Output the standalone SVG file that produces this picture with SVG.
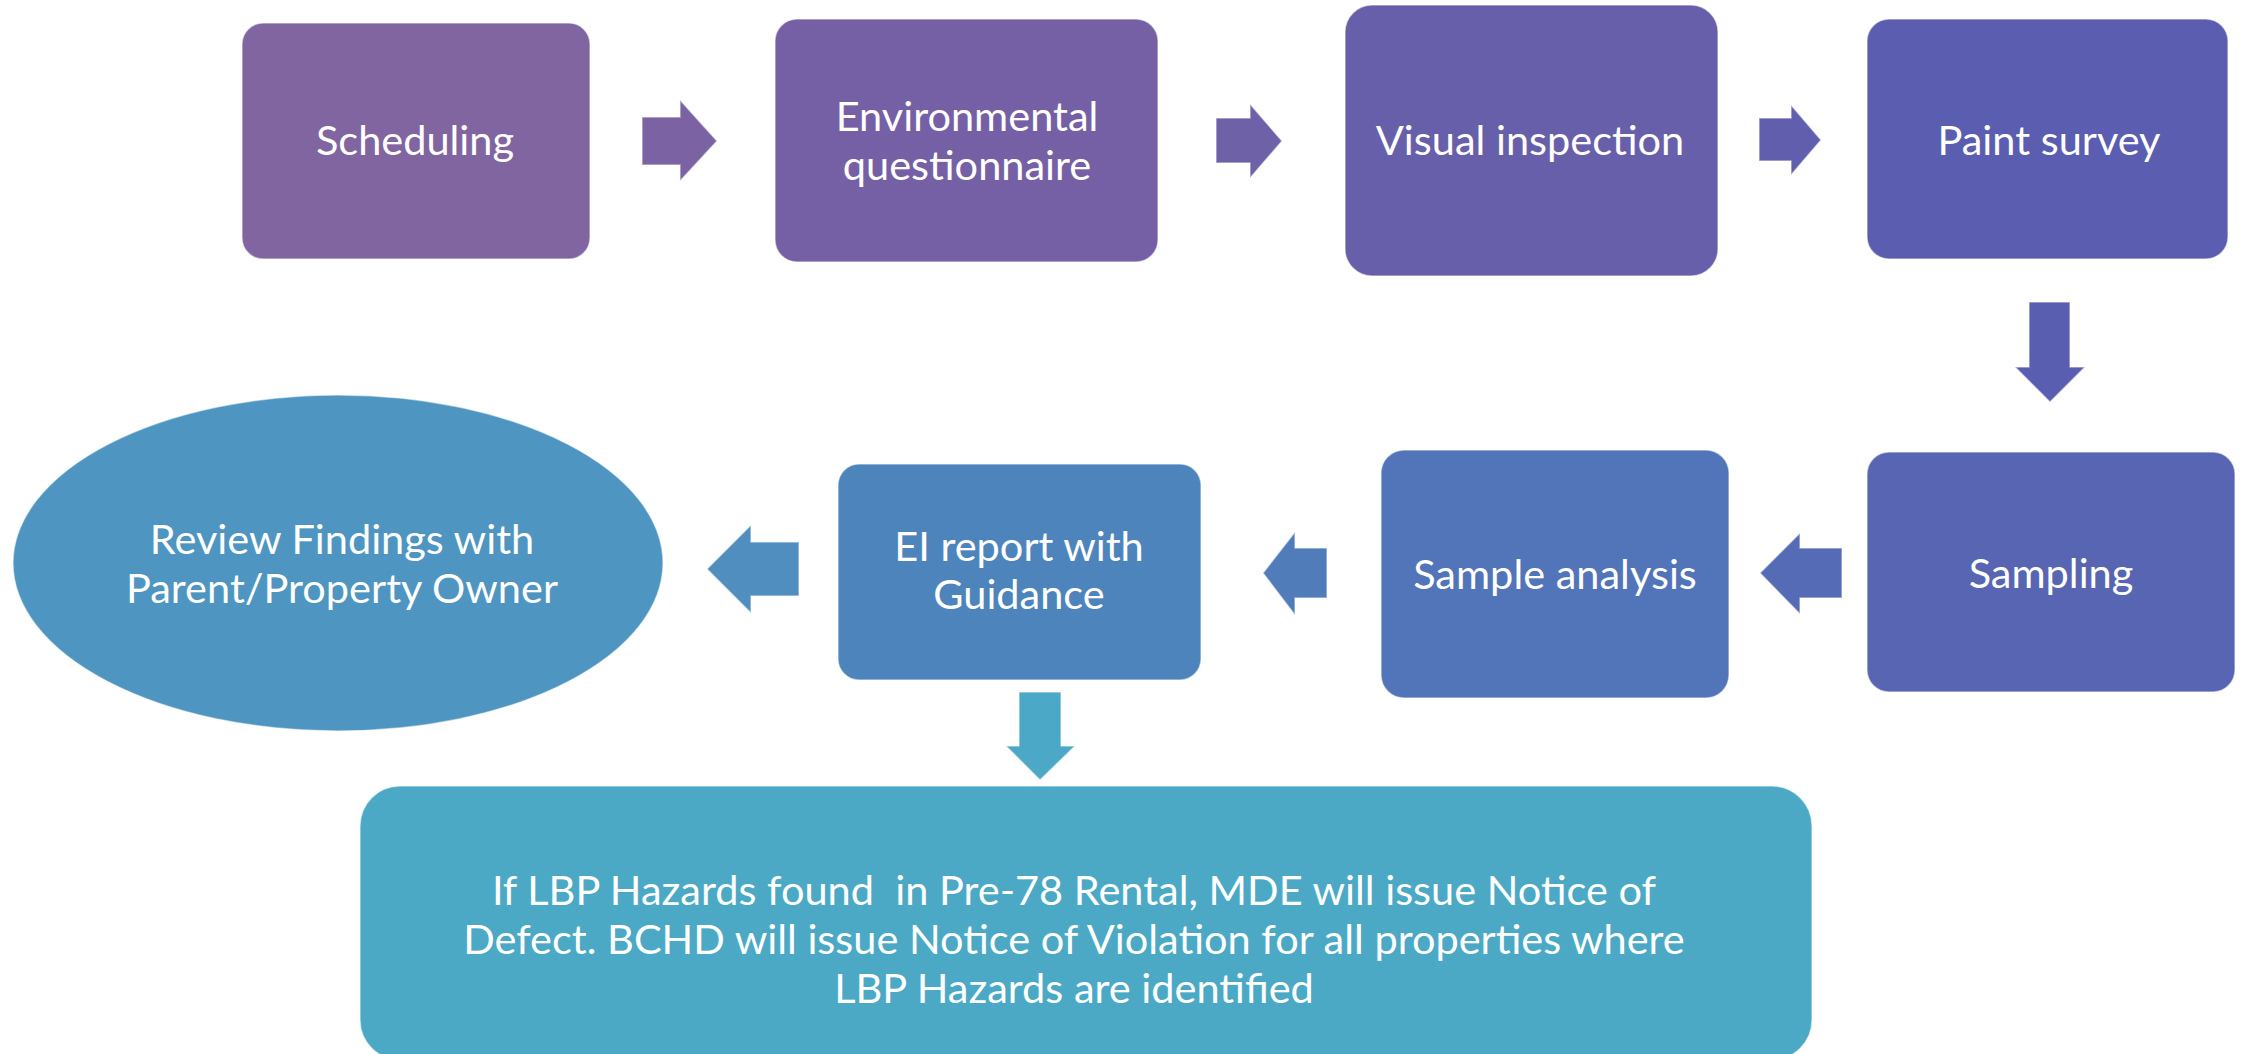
<svg xmlns="http://www.w3.org/2000/svg" width="2248" height="1054" viewBox="0 0 2248 1054">
<style>
  .box { stroke: #ffffff; stroke-opacity: 0.5; stroke-width: 1.5; }
  .arr { stroke: #ffffff; stroke-opacity: 0.5; stroke-width: 1.5; }
  .t { font-family: Lato, "Liberation Sans", sans-serif; font-size: 41.5px; fill: #ffffff; text-anchor: middle; }
</style>
<rect width="2248" height="1054" fill="#ffffff"/>
<g id="connectors">
  <polygon class="arr" fill="#7A62A3" points="642,117 680,117 680,100 717,141 680,181 680,165 642,165"/>
  <polygon class="arr" fill="#6E61A8" points="1216,118 1250,118 1250,104 1282,141 1250,178 1250,163 1216,163"/>
  <polygon class="arr" fill="#615FAD" points="1759,118 1791,118 1791,105 1821,140 1791,175 1791,161 1759,161"/>
  <polygon class="arr" fill="#5A5EB0" points="2029,302 2070,302 2070,367 2085,367 2050,402 2015,367 2029,367"/>
  <polygon class="arr" fill="#556BB5" points="1842,548 1800,548 1800,533 1760,573 1800,614 1800,598 1842,598"/>
  <polygon class="arr" fill="#507CBA" points="1327,548 1295,548 1295,532 1263,573 1295,615 1295,598 1327,598"/>
  <polygon class="arr" fill="#4F8EBF" points="799,542 751,542 751,525 707,569 751,613 751,596 799,596"/>
  <polygon class="arr" fill="#4BA8C6" points="1019,692 1061,692 1061,746 1075,746 1040,780 1006,746 1019,746"/>
</g>
<g id="scheduling">
  <rect class="box" x="242" y="23" width="348" height="236" rx="21" fill="#8065A1"/>
  <text class="t" x="415" y="155">Scheduling</text>
</g>
<g id="environmental-questionnaire">
  <rect class="box" x="775" y="19" width="383" height="243" rx="22" fill="#7660A5"/>
  <text class="t" x="967" y="131">Environmental</text>
  <text class="t" x="967" y="180">questionnaire</text>
</g>
<g id="visual-inspection">
  <rect class="box" x="1345" y="5" width="373" height="271" rx="27" fill="#685FAA"/>
  <text class="t" x="1530" y="155">Visual inspection</text>
</g>
<g id="paint-survey">
  <rect class="box" x="1867" y="19" width="361" height="240" rx="22" fill="#5A5DB0"/>
  <text class="t" x="2049" y="155">Paint survey</text>
</g>
<g id="sampling">
  <rect class="box" x="1867" y="452" width="368" height="240" rx="22" fill="#5765B2"/>
  <text class="t" x="2051" y="588">Sampling</text>
</g>
<g id="sample-analysis">
  <rect class="box" x="1381" y="450" width="348" height="248" rx="23" fill="#5274B8"/>
  <text class="t" x="1555" y="589">Sample analysis</text>
</g>
<g id="ei-report">
  <rect class="box" x="838" y="464" width="363" height="216" rx="21" fill="#4E84BC"/>
  <text class="t" x="1019" y="561">EI report with</text>
  <text class="t" x="1019" y="609">Guidance</text>
</g>
<g id="review-findings">
  <ellipse class="box" cx="338" cy="563" rx="325" ry="168" fill="#4E95C1"/>
  <text class="t" x="342" y="554">Review Findings with</text>
  <text class="t" x="342" y="603">Parent/Property Owner</text>
</g>
<g id="notice">
  <rect class="box" x="360" y="786" width="1452" height="274" rx="40" fill="#4BA9C6"/>
  <text class="t" x="1074" y="905" xml:space="preserve">If LBP Hazards found  in Pre-78 Rental, MDE will issue Notice of</text>
  <text class="t" x="1074" y="954">Defect. BCHD will issue Notice of Violation for all properties where</text>
  <text class="t" x="1074" y="1003">LBP Hazards are identified</text>
</g>
</svg>
